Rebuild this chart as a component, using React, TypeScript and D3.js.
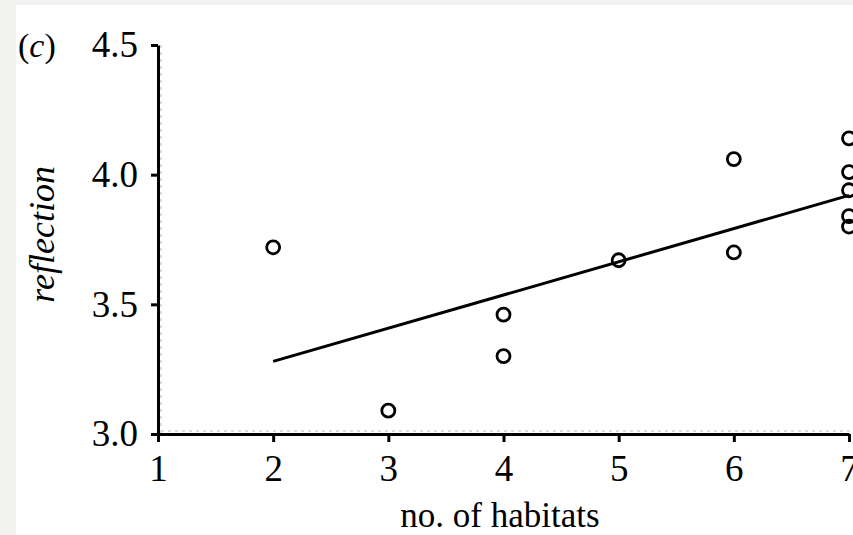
import { useEffect, useRef } from "react";
import * as d3 from "d3";

const WIDTH = 853;
const HEIGHT = 535;
const FONT = "'Liberation Serif', 'Times New Roman', serif";

const habitats = [2, 3, 4, 4, 5, 6, 6, 7, 7, 7, 7, 7];
const reflection = [3.72, 3.09, 3.46, 3.3, 3.67, 4.06, 3.7, 4.14, 4.01, 3.94, 3.84, 3.8];

// fitted line end points
const fitX = [2, 7];
const fitY = [3.28, 3.92];

const xTicks = [1, 2, 3, 4, 5, 6, 7];
const yTicks = [3.0, 3.5, 4.0, 4.5];

export default function App() {
  const xAxisRef = useRef<SVGGElement>(null);
  const yAxisRef = useRef<SVGGElement>(null);

  const xScale = d3.scaleLinear().domain([1, 7]).range([158, 849]);
  const yScale = d3.scaleLinear().domain([3, 4.5]).range([434, 45]);

  useEffect(() => {
    const gx = d3.select(xAxisRef.current);
    gx.selectAll("*").remove();
    gx.call(
      d3
        .axisBottom(xScale)
        .tickValues(xTicks)
        .tickSize(8)
        .tickSizeOuter(0)
        .tickPadding(13)
        .tickFormat(d3.format("d"))
    );

    const gy = d3.select(yAxisRef.current);
    gy.selectAll("*").remove();
    gy.call(
      d3
        .axisLeft(yScale)
        .tickValues(yTicks)
        .tickSize(7)
        .tickSizeOuter(0)
        .tickPadding(13)
        .tickFormat(d3.format(".1f"))
    );

    [gx, gy].forEach((g) => {
      g.select(".domain").attr("stroke", "#000").attr("stroke-width", 3);
      g.selectAll(".tick line").attr("stroke", "#000").attr("stroke-width", 3);
      g.selectAll(".tick text")
        .attr("fill", "#000")
        .style("font-family", FONT)
        .style("font-size", "37px");
    });
  }, []);

  const line = d3
    .line<number>()
    .x((d) => xScale(d))
    .y((_, i) => yScale(fitY[i]));

  return (
    <svg
      width={WIDTH}
      height={HEIGHT}
      style={{ position: "absolute", left: 0, top: 0, background: "#f2f2f1" }}
    >
      <rect x={16} y={5} width={WIDTH - 16} height={HEIGHT - 5} fill="#fff" />

      {/* faint dotted lines next to the axes */}
      <line
        x1={xScale(1) + 3}
        x2={WIDTH}
        y1={yScale(3) - 3}
        y2={yScale(3) - 3}
        stroke="#d9dde2"
        strokeWidth={2}
        strokeDasharray="3 4"
      />
      <line
        x1={xScale(1) + 3}
        x2={xScale(1) + 3}
        y1={yScale(4.5)}
        y2={yScale(3)}
        stroke="#d9dde2"
        strokeWidth={2}
        strokeDasharray="3 4"
      />

      <g ref={xAxisRef} transform={`translate(0,${yScale(3)})`} />
      <g ref={yAxisRef} transform={`translate(${xScale(1)},0)`} />

      <path d={line(fitX) || ""} fill="none" stroke="#000" strokeWidth={3} />

      {habitats.map((h, i) => (
        <circle
          key={i}
          cx={xScale(h)}
          cy={yScale(reflection[i])}
          r={6.5}
          fill="none"
          stroke="#000"
          strokeWidth={2.8}
        />
      ))}

      <text
        x={18}
        y={57}
        fontFamily={FONT}
        fontSize={34}
        fill="#000"
      >
        (<tspan fontStyle="italic">c</tspan>)
      </text>

      <text
        transform={`translate(54,${yScale(3.77)}) rotate(-90)`}
        textAnchor="middle"
        fontFamily={FONT}
        fontStyle="italic"
        fontSize={36}
        fill="#000"
      >
        reflection
      </text>

      <text
        x={500}
        y={527}
        textAnchor="middle"
        fontFamily={FONT}
        fontSize={35}
        fill="#000"
      >
        no. of habitats
      </text>
    </svg>
  );
}
